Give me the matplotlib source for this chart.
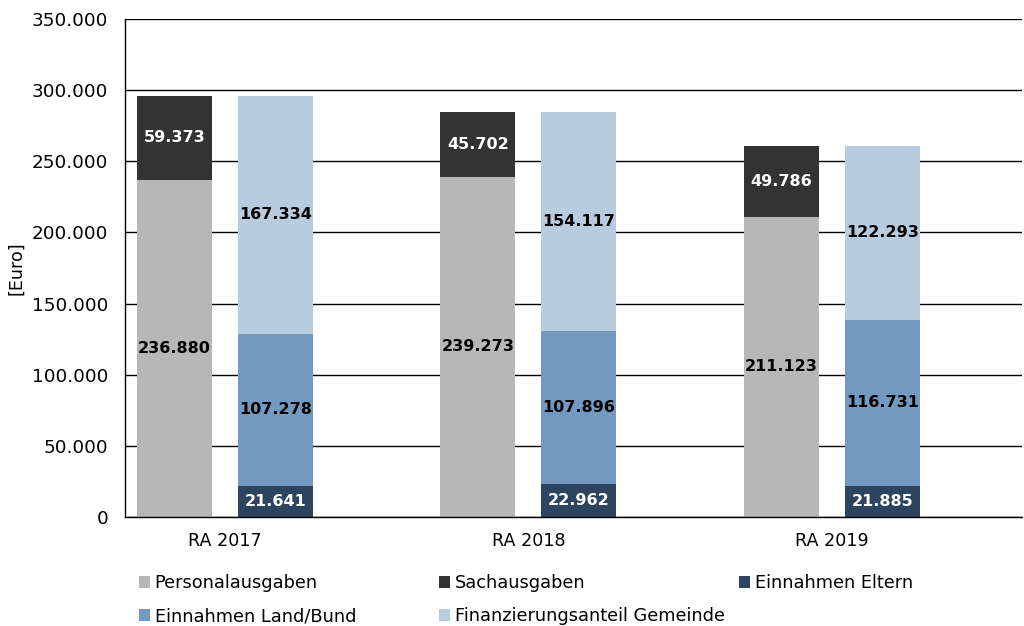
import matplotlib
matplotlib.use("Agg")
import matplotlib.pyplot as plt
from matplotlib.patches import Patch
import numpy as np

categories = ["RA 2017", "RA 2018", "RA 2019"]
personal = [236880, 239273, 211123]
sach = [59373, 45702, 49786]
eltern = [21641, 22962, 21885]
land = [107278, 107896, 116731]
gemeinde = [167334, 154117, 122293]
yticks = [0, 50000, 100000, 150000, 200000, 250000, 300000, 350000]

c_personal = "#b7b7b7"
c_sach = "#333333"
c_eltern = "#2d4461"
c_land = "#7399c0"
c_gemeinde = "#b8cce0"

def fmt(v):
    return f"{v:,.0f}".replace(",", ".")

plt.rcParams['font.family'] = ['DejaVu Sans']
fig = plt.figure(figsize=(10.24, 6.26), dpi=100)
ax = fig.add_axes([0.122, 0.174, 0.876, 0.7956])

x = np.arange(len(categories))
off = 0.166
w = 0.247
xl = x - off
xr = x + off

def seg(xpos, bottoms, vals, color, tcolor):
    bars = ax.bar(xpos, vals, w, bottom=bottoms, color=color, zorder=2)
    for b, bt, v in zip(bars, bottoms, vals):
        ax.text(b.get_x() + b.get_width() / 2, bt + v / 2, fmt(v),
                ha='center', va='center', fontsize=11.5, fontweight='bold',
                color=tcolor, zorder=3)

zeros = np.zeros(3)
p = np.array(personal)
e = np.array(eltern)
l = np.array(land)
seg(xl, zeros, personal, c_personal, 'black')
seg(xl, p, sach, c_sach, 'white')
seg(xr, zeros, eltern, c_eltern, 'white')
seg(xr, e, land, c_land, 'black')
seg(xr, e + l, gemeinde, c_gemeinde, 'black')

ax.set_ylim(0, 350000)
ax.set_xlim(-0.329, 2.626)
ax.set_yticks(yticks)
ax.set_yticklabels([fmt(v) for v in yticks], fontsize=13.2)
ax.set_xticks(x)
ax.set_xticklabels(categories, fontsize=12.6)
ax.tick_params(axis='y', length=0, pad=12)
ax.tick_params(axis='x', length=0, pad=11)
ax.yaxis.grid(True, color='black', linewidth=1.0, zorder=0)
ax.set_axisbelow(True)
for s in ['top', 'right']:
    ax.spines[s].set_visible(False)
ax.spines['left'].set_linewidth(1.0)
ax.spines['bottom'].set_linewidth(1.0)
fig.text(0.016, 0.572, "[Euro]", rotation=90, ha='center', va='center', fontsize=12.6)

items = [
    [("Personalausgaben", c_personal), ("Einnahmen Land/Bund", c_land)],
    [("Sachausgaben", c_sach), ("Finanzierungsanteil Gemeinde", c_gemeinde)],
    [("Einnahmen Eltern", c_eltern)],
]
xs = [0.136, 0.429, 0.722]
for col, xp in zip(items, xs):
    handles = [Patch(facecolor=c, edgecolor='none') for _, c in col]
    labels = [t for t, _ in col]
    fig.legend(handles, labels, loc='upper left', bbox_to_anchor=(xp, 0.083),
               frameon=False, fontsize=12.8, handlelength=0.62, handleheight=0.62,
               handletextpad=0.25, labelspacing=0.85, borderaxespad=0, borderpad=0)

fig.savefig("out.png", dpi=100)
